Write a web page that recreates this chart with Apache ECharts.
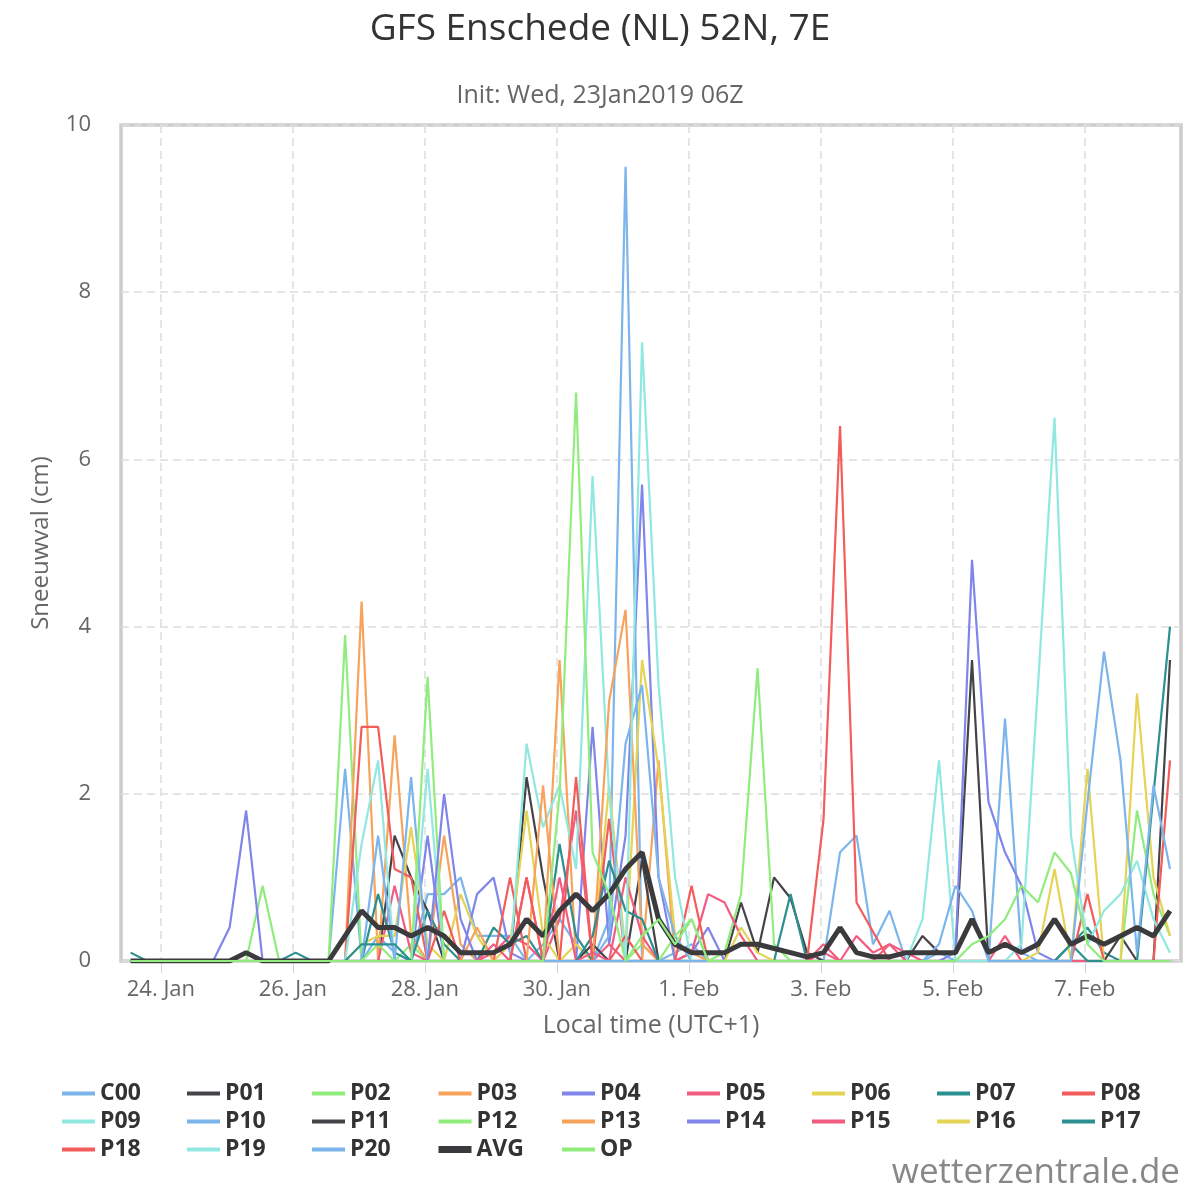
<!DOCTYPE html>
<html>
<head>
<meta charset="utf-8">
<script src="https://cdn.jsdelivr.net/npm/echarts@6/dist/echarts.min.js"></script>
<style>
    html, body { margin: 0; padding: 0; background: #fff; }
    #chart { width: 1200px; height: 1200px; }
</style>
</head>
<body>
<div id="chart"></div>
<script>
// run time in hours after 24 Jan 00:00 local (UTC+1), 6-hourly from 23 Jan 13:00
var firstHour = -11;
var stepHours = 6;

// x axis ticks (every 2 days) and their labels
var tickHours = [0, 48, 96, 144, 192, 240, 288, 336];
var tickLabels = ['24. Jan', '26. Jan', '28. Jan', '30. Jan', '1. Feb', '3. Feb', '5. Feb', '7. Feb'];

var names = ['C00', 'P01', 'P02', 'P03', 'P04', 'P05', 'P06', 'P07', 'P08', 'P09',
    'P10', 'P11', 'P12', 'P13', 'P14', 'P15', 'P16', 'P17', 'P18', 'P19', 'P20', 'AVG', 'OP'];

var colors = ['#7cb5ec', '#434348', '#90ed7d', '#f7a35c', '#8085e9', '#f15c80', '#e4d354', '#2b908f', '#f45b5b', '#91e8e1',
    '#7cb5ec', '#434348', '#90ed7d', '#f7a35c', '#8085e9', '#f15c80', '#e4d354', '#2b908f', '#f45b5b', '#91e8e1',
    '#7cb5ec', '#3b3b3e', '#90ed7d'];

// snowfall per 6h (cm)
var C00 = [0,0,0,0,0,0,0,0,0,0,0,0,0,2.3,0,0.3,
    0.1,0,0.8,0.8,1.0,0.3,0.3,0.3,0,0.2,0.5,0.2,0,0.5,9.5,0,
    0,0.1,0.2,0,0,0,0,0,0,0,0,1.3,1.5,0.2,0.6,0,
    0,0.1,0,0,0,0,0,0,0,0,0,0,0,0,0,0];
var P01 = [0,0,0,0,0,0,0,0,0,0,0,0,0,0,0,0,
    1.5,1.0,0.6,0,0,0,0,0,2.2,1.0,0,0,0,0,0,0,
    0,0,0,0,0,0.7,0.1,1.0,0.75,0.1,0,0,0,0,0,0,
    0.3,0.1,0.1,3.6,0,0,0,0,0,0,0,0,0,0,0,0];
var P02 = [0,0,0,0,0,0,0,0,0.9,0,0,0,0,3.9,0,0,
    0,0.2,0,0,0,0,0,0,0,0,0,0,0,0,0,0,
    0,0,0,0,0.1,0.8,3.5,0.2,0,0,0,0,0,0,0,0,
    0,0,0,0,0,0,0,0,0,0,0,0,0,0,0,0];
var P03 = [0,0,0,0,0,0,0,0,0,0,0,0,0,0,4.3,0,
    2.7,0.3,0,1.5,0.2,0,0,0,0,0,3.6,0,0,0,0,0,
    2.4,0,0.1,0,0,0,0,0,0,0,0,0,0,0,0,0,
    0,0,0,0,0,0,0,0,0,0,0,0,0,0,0,0];
var P04 = [0,0,0,0,0,0,0.4,1.8,0,0,0,0,0,0,0,0,
    0,0,1.5,0,0,0.8,1.0,0.1,0,0,0,0,2.8,0.2,1.5,5.7,
    1.0,0,0.1,0.4,0,0,0,0,0,0,0,0,0,0,0,0,
    0,0,0,0,0,0,0,0,0,0,0,0,0,0,0,0];
var P05 = [0,0,0,0,0,0,0,0,0,0,0,0,0,0,0,0,
    0.9,0.1,0,0,0,0,0.1,0.3,0.2,0,0.5,1.8,0,0.2,0,0,
    0,0,0.1,0.8,0.7,0.3,0,0,0,0,0.1,0,0.3,0.1,0.2,0.1,
    0,0,0,0,0,0.3,0,0,0,0,0,0,0,0,0,0];
var P06 = [0,0,0,0,0,0,0,0,0,0,0,0,0,0,0.2,0.3,
    0.3,1.6,0.2,0,0.8,0.3,0,0.2,1.8,0.3,0,0.2,0,2.1,0.1,3.6,
    2.3,0.3,0,0,0,0,0,0,0,0,0,0,0,0,0,0,
    0,0,0,0,0,0,0,0,0,0,0,0,0,0,0,0];
var P07 = [0.1,0,0,0,0,0,0,0,0,0,0.1,0,0,0,0,0.8,
    0.1,0,0.6,0.2,0,0,0.4,0.2,0.3,0,1.4,0.3,0,0,0,0,
    0,0,0,0,0,0,0,0,0.8,0,0,0,0,0,0,0,
    0,0,0,0,0,0,0,0,0,0.2,0.4,0.1,0,0,0,0];
var P08 = [0,0,0,0,0,0,0,0,0,0,0,0,0,0,2.8,2.8,
    1.1,1.0,0,0.6,0,0,0,1.0,0,0,0,0,0,1.7,0,0,
    0,0,0.9,0,0,0,0,0,0,0,1.7,6.4,0.7,0.35,0,0,
    0,0,0,0,0,0,0,0,0,0,0,0,0,0,0,0];
var P09 = [0,0,0,0,0,0,0,0,0,0,0,0,0,0,1.4,2.4,
    0,0,2.3,0,0,0,0,0,2.6,1.6,2.1,1.1,5.8,2.0,0,0,
    0,0,0,0,0,0,0,0,0,0,0,0,0,0,0,0,
    0.5,2.4,0,0,0,0,0,0,0,0,0,0,0,0,0,0];
var P10 = [0,0,0,0,0,0,0,0,0,0,0,0,0,0,0,1.5,
    0,2.2,0,0,0,0,0,0,0,0,0,0,0,0.3,2.6,3.3,
    1.0,0.3,0,0,0,0,0,0,0,0,0,0,0,0,0,0,
    0,0,0,0,0,2.9,0.1,0,0,0,0,0,0,0,0,0];
var P11 = [0,0,0,0,0,0,0,0,0,0,0,0,0,0,0,0,
    0,0,0,0,0,0,0,0,0,0,0,0,0.2,0,0,1.2,
    0,0,0,0,0,0,0,0,0,0,0,0,0,0,0,0,
    0,0,0,0,0,0,0,0,0,0,0,0,0.3,0,0,3.6];
var P12 = [0,0,0,0,0,0,0,0,0,0,0,0,0,0,0,0.2,
    0,0,3.4,0,0,0,0,0,0,0,0,0,0,0,0,0.2,
    0,0.3,0.5,0,0,0,0,0,0,0,0,0,0,0,0,0,
    0,0,0,0,0,0,0,0,0,0,0,0,0,1.8,0.8,0.3];
var P13 = [0,0,0,0,0,0,0,0,0,0,0,0,0,0,0,0,
    0,0,0,0,0,0.4,0,0,0,2.1,0,0,0,3.1,4.2,0.2,
    0,0,0,0,0,0,0,0,0,0,0,0,0,0,0,0,
    0,0,0,0,0,0,0,0,0,0,0,0,0,0,0,0];
var P14 = [0,0,0,0,0,0,0,0,0,0,0,0,0,0,0,0,
    0,0,0,2.0,0.5,0,0,0,0,0,0,0,0,0,0,0,
    0,0,0,0,0,0,0,0,0,0,0,0,0,0,0,0,
    0,0,0.1,4.8,1.9,1.3,0.9,0.1,0,0,0,0,0,0,0,0];
var P15 = [0,0,0,0,0,0,0,0,0,0,0,0,0,0,0,0,
    0,0,0,0,0,0,0.2,0,1.0,0,1.0,0,0.1,0,1.0,0.3,
    0,0,0,0,0,0,0,0,0,0,0.2,0,0,0,0.2,0,
    0,0,0,0,0,0,0,0,0,0,0,0,0,0,0,0];
var P16 = [0,0,0,0,0,0,0,0,0,0,0,0,0,0,0,0,
    0,0,0,0,0,0,0,0,0,0,0,0,0,0,0,0,
    0,0,0,0,0,0.4,0.1,0,0,0,0,0,0,0,0,0,
    0,0,0,0,0,0,0,0.1,1.1,0,2.3,0,0,3.2,1.0,0.3];
var P17 = [0,0,0,0,0,0,0,0,0,0,0,0,0,0,0.2,0.2,
    0.2,0,0,0,0,0,0,0,0,0,0,0,0.3,1.2,0.6,0.5,
    0,0,0,0,0,0,0,0,0,0,0,0,0,0,0,0,
    0,0,0,0,0,0,0,0,0,0.2,0,0,0,0,2.0,4.0];
var P18 = [0,0,0,0,0,0,0,0,0,0,0,0,0,0,0,0,
    0,0,0,0,0,0,0,0,1.0,0,0,2.2,0,0,0.3,0,
    0,0,0,0,0,0,0,0,0,0,0,0,0,0,0,0,
    0,0,0,0,0,0,0,0,0,0,0.8,0,0,0,0,2.4];
var P19 = [0,0,0,0,0,0,0,0,0,0,0,0,0,0,0,0,
    0,0,0,0,0,0,0,0,0,0,0,0,0,0,0,7.4,
    3.3,1.0,0,0,0,0,0,0,0,0,0,0,0,0,0,0,
    0,0,0,0,0,0,0.2,3.3,6.5,1.5,0.2,0.6,0.8,1.2,0.5,0.1];
var P20 = [0,0,0,0,0,0,0,0,0,0,0,0,0,0,0,0,
    0,0,0,0,0,0,0,0,0,0,0,0,0,0,0,0,
    0,0,0,0,0,0,0,0,0,0,0,0,0,0,0,0,
    0,0.2,0.9,0.6,0,0,0,0,0,0,1.9,3.7,2.4,0.1,2.1,1.1];
var AVG = [0,0,0,0,0,0,0,0.1,0,0,0,0,0,0.3,0.6,0.4,
    0.4,0.3,0.4,0.3,0.1,0.1,0.1,0.2,0.5,0.3,0.6,0.8,0.6,0.8,1.1,1.3,
    0.5,0.2,0.1,0.1,0.1,0.2,0.2,0.15,0.1,0.05,0.1,0.4,0.1,0.05,0.05,0.1,
    0.1,0.1,0.1,0.5,0.1,0.2,0.1,0.2,0.5,0.2,0.3,0.2,0.3,0.4,0.3,0.6];
var OP = [0,0,0,0,0,0,0,0,0,0,0,0,0,0,0,0,
    0,0,0,0,0,0,0,0,0,0,2.0,6.8,1.3,0.8,0,0.3,
    0.5,0.2,0.5,0,0,0,0,0,0,0,0,0,0,0,0,0,
    0,0,0,0.2,0.3,0.5,0.9,0.7,1.3,1.05,0.2,0,0,0,0,0];

var values = [C00, P01, P02, P03, P04, P05, P06, P07, P08, P09,
    P10, P11, P12, P13, P14, P15, P16, P17, P18, P19, P20, AVG, OP];

var chart = echarts.init(document.getElementById('chart'));

var series = names.map(function (name, k) {
    return {
        name: name,
        type: 'line',
        symbol: 'none',
        color: colors[k],
        lineStyle: { width: name === 'AVG' ? 5 : 2.2 },
        data: values[k].map(function (v, i) {
            return [firstHour + i * stepHours, v];
        })
    };
});

// legend laid out as a 9-column grid: one vertical legend per column
var legendCols = 9;
var legends = [];
for (let c = 0; c < legendCols; c++) {
    var colNames = names.filter(function (n, k) { return k % legendCols === c; });
    legends.push({
        orient: 'vertical',
        left: 60 + c * 125,
        top: 1082,
        padding: 0,
        itemWidth: 33,
        itemHeight: 14,
        itemGap: 5,
        itemStyle: { opacity: 0 },
        lineStyle: { width: 4 },
        textStyle: { fontSize: 23, fontWeight: 'bold', color: '#333333' },
        data: colNames.map(function (n) {
            return n === 'AVG' ? { name: n, lineStyle: { width: 7 } } : n;
        })
    });
}

var option = {
    animation: false,
    backgroundColor: '#ffffff',
    textStyle: { fontFamily: 'Open Sans' },
    title: [
        {
            text: 'GFS Enschede (NL) 52N, 7E',
            left: 'center',
            top: 6,
            textStyle: { fontSize: 37, fontWeight: 'normal', color: '#333333', fontFamily: 'Open Sans' }
        },
        {
            text: 'Init: Wed, 23Jan2019 06Z',
            left: 'center',
            top: 78,
            textStyle: { fontSize: 25, fontWeight: 'normal', color: '#666666', fontFamily: 'Open Sans' }
        }
    ],
    legend: legends,
    grid: {
        left: 121,
        right: 19,
        top: 125,
        bottom: 239,
        show: true,
        borderColor: '#cccccc',
        borderWidth: 3.5
    },
    xAxis: {
        type: 'value',
        min: -14.5,
        max: 371,
        name: 'Local time (UTC+1)',
        nameLocation: 'middle',
        nameGap: 52,
        nameTextStyle: { fontSize: 25, color: '#666666' },
        axisLine: { show: false },
        axisTick: { show: true, length: 12, customValues: tickHours, lineStyle: { color: '#ccd6eb' } },
        axisLabel: {
            customValues: tickHours,
            fontSize: 22,
            color: '#666666',
            margin: 18,
            formatter: function (v) {
                return tickLabels[tickHours.indexOf(v)];
            }
        },
        splitLine: { show: true, lineStyle: { color: '#dddddd', type: [8, 5], width: 1.5 } }
    },
    yAxis: {
        type: 'value',
        min: 0,
        max: 10,
        interval: 2,
        name: 'Sneeuwval (cm)',
        nameLocation: 'middle',
        nameRotate: 90,
        nameGap: 68,
        nameTextStyle: { fontSize: 24, color: '#666666' },
        axisLine: { show: false },
        axisTick: { show: false },
        axisLabel: { fontSize: 22, color: '#666666', margin: 30 },
        splitLine: { show: true, lineStyle: { color: '#dddddd', type: [8, 5], width: 1.5 } }
    },
    graphic: [
        {
            type: 'text',
            right: 20,
            top: 1156,
            style: { text: 'wetterzentrale.de', fontSize: 35, fill: '#888888', fontFamily: 'Open Sans' }
        }
    ],
    series: series
};

chart.setOption(option);

window.addEventListener('resize', function () {
    chart.resize();
});
</script>
</body>
</html>
